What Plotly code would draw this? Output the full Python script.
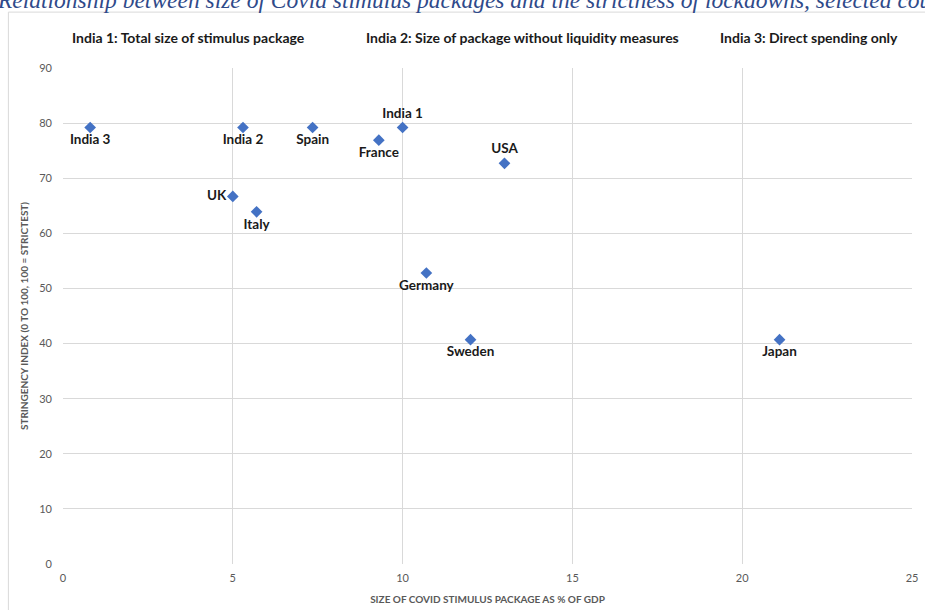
import plotly.graph_objects as go

# Stimulus size (% of GDP) vs lockdown stringency index
countries = ["India 3", "India 2", "Spain", "France", "India 1", "UK", "Italy",
             "USA", "Germany", "Sweden", "Japan"]
stimulus_pct_gdp = [0.8, 5.3, 7.35, 9.3, 10.0, 5.0, 5.7, 13.0, 10.7, 12.0, 21.1]
stringency = [79.2, 79.2, 79.2, 76.9, 79.2, 66.7, 63.9, 72.7, 52.8, 40.7, 40.7]
label_pos = ["bottom center", "bottom center", "bottom center", "bottom center",
             "top center", "middle left", "bottom center", "top center",
             "bottom center", "bottom center", "bottom center"]

x_ticks = [0, 5, 10, 15, 20, 25]
y_ticks = [0, 10, 20, 30, 40, 50, 60, 70, 80, 90]

notes = ["India 1: Total size of stimulus package",
         "India 2: Size of package without liquidity measures",
         "India 3: Direct spending only"]
note_x = [189, 526, 814]

title_text = ("Relationship between size of Covid stimulus packages and the "
              "strictness of lockdowns, selected countries")

W, H = 925, 610
ML, MR, MT, MB = 63, 7, 68, 45
PW, PH = W - ML - MR, H - MT - MB


def px(xp):
    return (xp - ML) / PW


def py(yp):
    return (H - MB - yp) / PH


fig = go.Figure(go.Scatter(
    x=stimulus_pct_gdp, y=stringency, mode="markers+text",
    text=countries, textposition=label_pos,
    marker=dict(symbol="diamond", size=9, color="#4472C4"),
    textfont=dict(family="Lato", size=13.5, color="#1a1a1a", weight="bold"),
    cliponaxis=False, hoverinfo="skip",
))

grid = "#D9D9D9"
tickfont = dict(family="Lato", size=11, color="#595959")
fig.update_xaxes(range=[0, 25], tickvals=x_ticks, showgrid=True, gridcolor=grid,
                 zeroline=False, showline=False, tickfont=tickfont, ticks="",
                 ticklabelstandoff=6,
                 title=dict(text="SIZE OF COVID STIMULUS PACKAGE AS % OF GDP",
                            font=dict(family="Lato", size=10, color="#595959", weight="bold"),
                            standoff=12))
fig.update_yaxes(range=[0, 90], tickvals=y_ticks, showgrid=True, gridcolor=grid,
                 zeroline=False, showline=False, tickfont=tickfont, ticks="",
                 ticklabelstandoff=10,
                 title=dict(text="STRINGENCY INDEX (0 TO 100, 100 = STRICTEST)",
                            font=dict(family="Lato", size=10, color="#595959", weight="bold"),
                            standoff=8))

annotations = [
    dict(text=t, x=px(xp), y=py(37), xref="paper", yref="paper",
         showarrow=False, xanchor="center", yanchor="middle",
         font=dict(family="Lato", size=14, color="#1a1a1a", weight="bold"))
    for t, xp in zip(notes, note_x)
]
annotations.append(dict(
    text="<i>" + title_text + "</i>", x=px(-5), y=py(15), xref="paper", yref="paper",
    showarrow=False, xanchor="left", yanchor="bottom",
    font=dict(family="Liberation Serif", size=23.5, color="#2F4A8A")))

fig.update_layout(
    width=W, height=H, margin=dict(l=ML, r=MR, t=MT, b=MB),
    plot_bgcolor="white", paper_bgcolor="white", showlegend=False,
    annotations=annotations,
    shapes=[dict(type="rect", xref="paper", yref="paper",
                 x0=px(8), x1=px(940), y0=py(630), y1=py(12),
                 line=dict(color="#D9D9D9", width=1), layer="below")],
)

fig.write_html("out.html")
